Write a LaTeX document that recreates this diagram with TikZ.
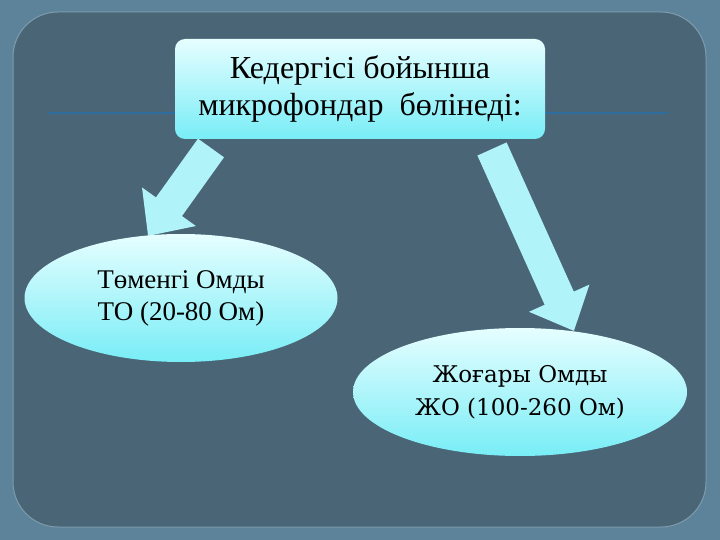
\documentclass[tikz,border=0pt]{standalone}
\usepackage{fontspec}
\setmainfont{Liberation Serif}
\newfontfamily\altserif{DejaVu Serif}
\usetikzlibrary{arrows.meta,shapes.geometric,backgrounds}
\definecolor{frame}{HTML}{5C8399}
\definecolor{panel}{HTML}{4A6576}
\definecolor{rule}{HTML}{2E6E9E}
\definecolor{pale}{HTML}{E6FEFF}
\definecolor{aqua}{HTML}{78EDF6}
\definecolor{arrowfill}{HTML}{B0F4FA}
\begin{document}
\begin{tikzpicture}[x=1pt,y=-1pt,
	bubble/.style={top color=pale, bottom color=aqua, draw=none, text=black, align=center, inner sep=0pt},
	blockarrow/.style={line width=32pt, draw=arrowfill, -{Triangle[length=36pt,width=64pt,fill=arrowfill]}}]
	\useasboundingbox (0,0) rectangle (720,540);
	\node[bubble, rounded corners=10pt, minimum width=370pt, minimum height=100pt, font=\fontsize{32}{37}\selectfont] (top) at (360,89) {Кедергісі бойынша\\микрофондар~ бөлінеді:};
	\node[bubble, ellipse, minimum width=313pt, minimum height=128pt, font=\fontsize{27}{32}\selectfont] (low) at (181,298) {Төменгі Омды\\ТО (20-80 Ом)};
	\node[bubble, ellipse, minimum width=334pt, minimum height=128pt, font=\altserif\fontsize{23}{33}\selectfont] (high) at (520,392) {Жоғары Омды\\ЖО (100-260 Ом)};
	\coordinate (rulel) at (48,113);
	\coordinate (ruler) at (668,113);
	\coordinate (ls) at (211,148);
	\coordinate (lt) at (148,236);
	\coordinate (rs) at (492,149);
	\coordinate (rt) at (574,331);
	\begin{scope}[on background layer]
		\fill[frame] (0,0) rectangle (720,540);
		\fill[panel, draw=frame!80!white, line width=1pt, rounded corners=45pt] (13,12) rectangle (706,527);
		\draw[rule, line width=2pt] (rulel) -- (rulel -| top.west);
		\draw[rule, line width=2pt] (ruler -| top.east) -- (ruler);
		\draw[blockarrow] (ls) -- (lt);
		\draw[blockarrow] (rs) -- (rt);
	\end{scope}
\end{tikzpicture}
\end{document}
